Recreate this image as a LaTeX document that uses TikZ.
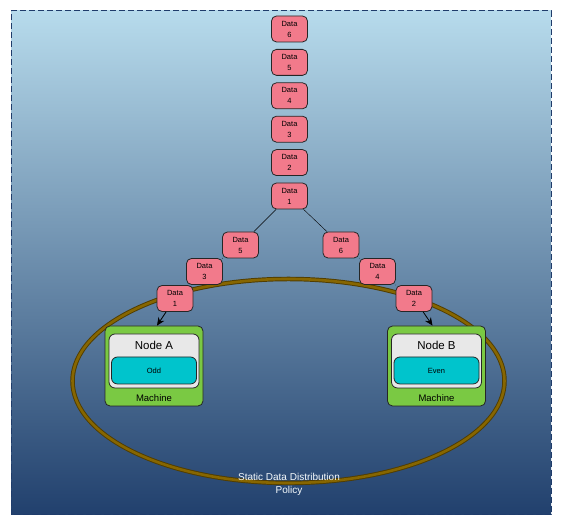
\documentclass[tikz,border=0pt]{standalone}
\usepackage{xcolor}
\usepackage{fontspec}
\setmainfont{Liberation Sans}
\usepackage{tikz}
\usetikzlibrary{shapes.geometric, positioning, arrows.meta}
\definecolor{skytop}{HTML}{B7DBEC}
\definecolor{skybottom}{HTML}{21406D}
\definecolor{frameblue}{HTML}{1F3C6B}
\definecolor{datapink}{HTML}{F27A8B}
\definecolor{machinegreen}{HTML}{7AC943}
\definecolor{nodegray}{HTML}{E8E8E8}
\definecolor{slotcyan}{HTML}{00C4CC}
\definecolor{policygold}{HTML}{876600}
\tikzstyle{data} = [rectangle, rounded corners=5pt, minimum width=36pt, minimum height=26pt, inner sep=1pt, text centered, align=center, font=\fontsize{7.5}{11}\selectfont, fill=datapink, draw=black!85, line width=0.8pt]
\tikzstyle{machine} = [rectangle, rounded corners=5pt, minimum width=98pt, minimum height=80pt, fill=machinegreen, draw=black!85, line width=0.8pt]
\tikzstyle{node} = [rectangle, rounded corners=6pt, minimum width=90pt, minimum height=54pt, fill=nodegray, draw=black!85, line width=0.8pt]
\tikzstyle{slot} = [rectangle, rounded corners=6pt, minimum width=85pt, minimum height=27pt, text centered, font=\fontsize{7.5}{9}\selectfont, fill=slotcyan, draw=black!85, line width=0.8pt]

\begin{document}
\begin{tikzpicture}[x=1pt, y=1pt]
		\useasboundingbox (0,0) rectangle (563,526);
		\shade[top color=skytop, bottom color=skybottom] (11,11) rectangle (551,515);
		\draw[frameblue, line width=1pt, dash pattern=on 6pt off 3pt] (11,11) rectangle (551,515);
		\draw[policygold!60!black, line width=4.5pt] (288.5,145) ellipse (216 and 102);
		\draw[policygold, line width=2.6pt] (288.5,145) ellipse (216 and 102);
		\node (Data 1)[data] at (289.5,330){Data\\1};
		\node (Data 2)[data, above = 6.6pt of Data 1]{Data\\2};
		\node (Data 3)[data, above = 6.6pt of Data 2]{Data\\3};
		\node (Data 4)[data, above = 6.6pt of Data 3]{Data\\4};
		\node (Data 5)[data, above = 6.6pt of Data 4]{Data\\5};
		\node (Data 6)[data, above = 6.6pt of Data 5]{Data\\6};
		\node (Odd 5)[data] at (240.5,281){Data\\5};
		\node (Odd 3)[data] at (204.5,254.5){Data\\3};
		\node (Odd 1)[data] at (175,227.5){Data\\1};
		\node (Even 6)[data] at (341,281){Data\\6};
		\node (Even 4)[data] at (377.5,254.5){Data\\4};
		\node (Even 2)[data] at (414,227.5){Data\\2};
		\draw (Data 1) -- (Odd 5);
		\draw (Odd 5) -- (Odd 3);
		\draw (Odd 3) -- (Odd 1);
		\draw (Data 1) -- (Even 6);
		\draw (Even 6) -- (Even 4);
		\draw (Even 4) -- (Even 2);
		\node (Machine A)[machine] at (154,160){};
		\node (Node A)[node] at ([yshift=5pt]Machine A.center){};
		\node (Odd)[slot] at ([yshift=-4.5pt]Machine A.center){Odd};
		\node (Node A Label)[below = 7.5pt of Node A.north, font=\fontsize{11.5}{13}\selectfont, inner sep=0pt]{Node A};
		\node (Machine A Label)[above = 5pt of Machine A.south, font=\fontsize{9.5}{11}\selectfont, inner sep=0pt]{Machine};
		\node (Machine B)[machine] at (436.5,160){};
		\node (Node B)[node] at ([yshift=5pt]Machine B.center){};
		\node (Even)[slot] at ([yshift=-4.5pt]Machine B.center){Even};
		\node (Node B Label)[below = 7.5pt of Node B.north, font=\fontsize{11.5}{13}\selectfont, inner sep=0pt]{Node B};
		\node (Machine B Label)[above = 5pt of Machine B.south, font=\fontsize{9.5}{11}\selectfont, inner sep=0pt]{Machine};
		\draw [-{Stealth[length=8pt, width=7pt]}, line width=0.8pt] (Odd 1) -- ([xshift=3pt]Machine A.north);
		\draw [-{Stealth[length=8pt, width=7pt]}, line width=0.8pt] (Even 2) -- ([xshift=-4pt]Machine B.north);
		\node (Policy)[align=center, text=white!88!skytop, font=\fontsize{10}{13}\selectfont] at (289,41.5){Static Data Distribution\\Policy};
	\end{tikzpicture}
\end{document}
